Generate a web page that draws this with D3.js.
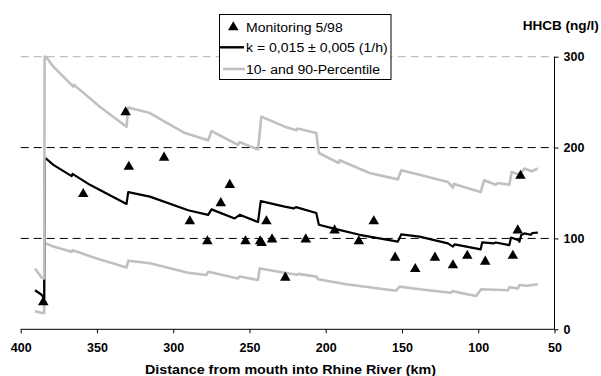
<!DOCTYPE html>
<html><head><meta charset="utf-8">
<script src="https://cdn.jsdelivr.net/npm/d3@7/dist/d3.min.js"></script>
<style>
body{margin:0;background:#fff;}
svg{display:block;font-family:"Liberation Sans",Arial,sans-serif;}
</style></head>
<body><svg id="c" width="601" height="376"></svg>
<script>
// Distance (km) and HHCB (ng/l)
const monitoring = [[385.2,31],[359,150],[331.2,240],[329.1,180],[306,190],[289.1,120],[277.6,98],[268.8,140],[262.9,160],[252.6,98],[243,98],[242,96],[238.9,120],[235.2,100],[226.5,58],[213.1,100],[194.2,110],[178.3,98],[168.5,120],[154.5,80],[141.3,67.5],[128.4,80],[116.6,71.5],[107.2,82],[95.4,75.5],[77.3,82],[74.1,110],[72.3,170]];
const model = [[390.6,43],[386.3,38],[384.6,34],[384.3,187],[383.4,188],[378.6,181],[366.6,168.6],[366,171],[354.6,159],[330.6,138],[329.5,151],[315.3,146],[290.2,131],[277.1,126],[274.9,132],[259.7,122],[256.4,126],[244.4,118],[242.6,141],[226.9,135],[221,133],[219.5,134.5],[206.2,128],[204.5,115],[195.3,111],[177.8,104],[152.7,96.5],[150.5,104.5],[138.5,102],[119.9,94.6],[116.6,91],[115.5,93.5],[98.4,88],[97.4,95.7],[89.8,94.6],[88.5,95.5],[79.6,92.7],[78.5,101],[73.5,98],[73,96.4],[71.8,103.7],[69.7,105.6],[65.5,104],[64.5,106],[60.9,106.3]];
const upper = [[390.6,67],[386.3,57],[384.6,56],[384.3,300],[383.4,300],[378.6,289],[365.5,267],[365,269],[348.1,245],[330.6,223],[329.5,244],[315.3,238],[292.4,216],[277.1,208],[274.9,218],[257.5,203],[256.5,206],[244.4,198],[242.2,234],[226.9,223],[219.2,219],[218.5,221],[206.2,216],[204.5,194],[191.5,183],[190.9,186],[171.3,172],[152.7,165],[150.5,175],[138.5,170],[119.9,162],[116.6,156],[116,160],[98.4,151],[96.2,164],[88.5,159],[87,161],[79.6,159],[78.1,173],[73,170],[69.7,177],[65,174],[60.9,177]];
const lower = [[390.6,20],[386.3,18],[384.6,18],[384.3,92],[383.4,94.6],[378.6,91],[366.6,85.4],[366,87],[350.2,78],[330.6,68],[329.5,75.5],[315.3,72.6],[290.2,62.3],[278.2,59.7],[277,63.4],[257.5,56],[256.5,58],[244.4,54.2],[243.3,67],[226.9,62.3],[219,60],[218,61],[206.2,58],[205,55],[186.5,49.5],[153.8,42.5],[151.6,47],[138.5,44],[117.8,40.3],[117,42],[101.4,36.6],[98.1,44],[80.5,43],[79.6,46.2],[74,45],[73,48.7],[68,48],[60.9,49.5]];
const xTicks = [400,350,300,250,200,150,100,50];
const yTicks = [0,100,200,300];
const gridBlack = [100,200];
const gridGray = [300];
const legendLabels = ["Monitoring 5/98","k = 0,015 \u00b1 0,005 (1/h)","10- and 90-Percentile"];
const yTitle = "HHCB (ng/l)";
const xTitle = "Distance from mouth into Rhine River (km)";

const svg = d3.select("#c");
const x = d3.scaleLinear().domain([400,50]).range([20.7,554.5]);
const y = d3.scaleLinear().domain([0,300]).range([329.3,56.7]);

// gridlines
svg.selectAll(".gb").data(gridBlack).join("line")
  .attr("x1",x(400)).attr("x2",x(50)).attr("y1",d=>y(d)).attr("y2",d=>y(d))
  .attr("stroke","#000").attr("stroke-width",1).attr("stroke-dasharray","8,5");
svg.selectAll(".gg").data(gridGray).join("line")
  .attr("x1",x(400)).attr("x2",x(50)).attr("y1",d=>y(d)).attr("y2",d=>y(d))
  .attr("stroke","#c0c0c0").attr("stroke-width",1.3).attr("stroke-dasharray","8,5");

// axes
const xAxis = d3.axisBottom(x).tickValues(xTicks).tickSize(4).tickFormat(d3.format("d"));
const gx = svg.append("g").attr("transform",`translate(0,${y(0)})`).call(xAxis);
gx.select(".domain").attr("stroke","#000").attr("d",`M${x(400)},0H${x(50)}`);
gx.selectAll("text").attr("font-size",12.5).attr("font-weight","bold").attr("font-family","Liberation Sans, Arial").attr("dy","1.25em");
const yAxis = d3.axisRight(y).tickValues(yTicks).tickSize(4).tickFormat(d3.format("d"));
const gy = svg.append("g").attr("transform",`translate(${x(50)},0)`).call(yAxis);
gy.select(".domain").attr("d",`M0,${y(300)}V${y(0)}`);
gy.selectAll("text").attr("font-size",12.5).attr("font-weight","bold").attr("font-family","Liberation Sans, Arial").attr("x",9);

const line = d3.line().x(d=>x(d[0])).y(d=>y(d[1]));
svg.append("path").datum(lower).attr("d",line).attr("fill","none").attr("stroke","#c0c0c0").attr("stroke-width",2.6).attr("stroke-linejoin","round");
svg.append("path").datum(model).attr("d",line).attr("fill","none").attr("stroke","#000").attr("stroke-width",2.2).attr("stroke-linejoin","round");
svg.append("path").datum(upper).attr("d",line).attr("fill","none").attr("stroke","#c0c0c0").attr("stroke-width",2.6).attr("stroke-linejoin","round");

const tri = d3.symbol().type(d3.symbolTriangle).size(48);
svg.selectAll(".m").data(monitoring).join("path")
  .attr("d",tri).attr("transform",d=>`translate(${x(d[0])},${y(d[1])+1})`).attr("fill","#000");

// titles
svg.append("text").attr("x",522.7).attr("y",29.7).attr("font-size",13.5).attr("font-weight","bold")
  .attr("textLength",76).attr("lengthAdjust","spacingAndGlyphs").text(yTitle);
svg.append("text").attr("x",145).attr("y",374.3).attr("font-size",13).attr("font-weight","bold")
  .attr("textLength",291).attr("lengthAdjust","spacingAndGlyphs").text(xTitle);

// legend
const lg = svg.append("g");
lg.append("rect").attr("x",219.5).attr("y",14.5).attr("width",171.5).attr("height",65).attr("fill","#fff").attr("stroke","#000").attr("stroke-width",1);
lg.append("path").attr("d",tri).attr("transform","translate(233.3,27.3)").attr("fill","#000");
lg.append("line").attr("x1",220).attr("x2",244).attr("y1",47.3).attr("y2",47.3).attr("stroke","#000").attr("stroke-width",2.4);
lg.append("line").attr("x1",223).attr("x2",245).attr("y1",69).attr("y2",69).attr("stroke","#c0c0c0").attr("stroke-width",2.6);
const legLen = [96.7,141.7,134];
lg.selectAll("text").data(legendLabels).join("text")
  .attr("x",246).attr("y",(d,i)=>[31.8,52.2,74][i]).attr("font-size",13.7)
  .attr("textLength",(d,i)=>legLen[i]).attr("lengthAdjust","spacingAndGlyphs").text(d=>d);
</script></body></html>
